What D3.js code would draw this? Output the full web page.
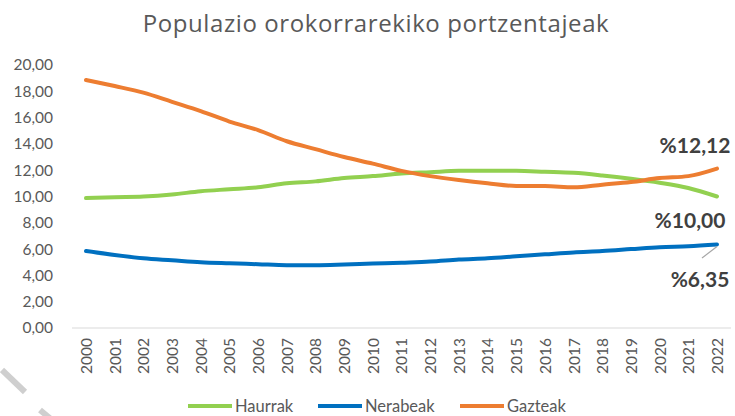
<!DOCTYPE html>
<html>
<head>
<meta charset="utf-8">
<script src="https://cdn.jsdelivr.net/npm/d3@7"></script>
<style>
  body { margin: 0; background: #fff; }
  svg { display: block; }
</style>
</head>
<body>
<svg id="chart" width="735" height="416"></svg>
<script>
// data
const years = ["2000","2001","2002","2003","2004","2005","2006","2007","2008","2009","2010","2011",
  "2012","2013","2014","2015","2016","2017","2018","2019","2020","2021","2022"]
const haurrak  = [9.88,9.95,10.0,10.15,10.4,10.55,10.7,11.0,11.15,11.4,11.55,11.75,11.85,11.95,11.95,11.95,11.88,11.8,11.6,11.35,11.05,10.65,10.00]
const nerabeak = [5.85,5.55,5.3,5.15,5.0,4.92,4.85,4.78,4.78,4.83,4.9,4.97,5.05,5.2,5.3,5.45,5.6,5.75,5.85,6.0,6.15,6.22,6.35]
const gazteak  = [18.86,18.4,17.9,17.2,16.5,15.7,15.05,14.2,13.6,13.0,12.5,11.95,11.55,11.25,11.0,10.8,10.8,10.7,10.9,11.1,11.4,11.55,12.12]
const yTicks = [0,2,4,6,8,10,12,14,16,18,20]

const series = [
  { name: "Haurrak", values: haurrak, color: "#92D050" },
  { name: "Nerabeak", values: nerabeak, color: "#0070C0" },
  { name: "Gazteak", values: gazteak, color: "#ED7D31" }
]

const svg = d3.select("#chart")
const fmt = v => d3.format(".2f")(v).replace(".", ",")

// scales
const x = d3.scalePoint().domain(years).range([86, 717])
const y = d3.scaleLinear().domain([0, 20]).range([328, 65])

// title
svg.append("text")
  .attr("x", 376).attr("y", 32)
  .attr("text-anchor", "middle")
  .style("font-family", "'Open Sans', sans-serif")
  .style("font-size", "24px")
  .style("letter-spacing", "0.6px")
  .style("fill", "#595959")
  .text("Populazio orokorrarekiko portzentajeak")

// y axis (labels only)
const yAxis = svg.append("g")
  .attr("transform", "translate(57,0)")
  .call(d3.axisLeft(y).tickValues(yTicks).tickFormat(fmt).tickSize(0).tickPadding(4))
yAxis.select(".domain").remove()
yAxis.selectAll("text")
  .style("font-family", "Lato, sans-serif")
  .style("font-size", "15.5px")
  .style("fill", "#595959")

// baseline
svg.append("line")
  .attr("x1", 72).attr("x2", 731)
  .attr("y1", y(0)).attr("y2", y(0))
  .attr("stroke", "#d9d9d9").attr("stroke-width", 1)

// x axis
const xAxis = svg.append("g")
  .attr("transform", `translate(0,${y(0)})`)
  .call(d3.axisBottom(x).tickSize(0).tickPadding(0))
xAxis.select(".domain").remove()
xAxis.selectAll("text")
  .attr("transform", "rotate(-90)")
  .attr("x", -10).attr("y", 0).attr("dy", "0.35em")
  .attr("text-anchor", "end")
  .style("font-family", "Lato, sans-serif")
  .style("font-size", "15.5px")
  .style("fill", "#595959")

// lines
const line = d3.line()
  .x((d, i) => x(years[i]))
  .y(d => y(d))
  .curve(d3.curveMonotoneX)

svg.selectAll(".series")
  .data(series)
  .enter()
  .append("path")
  .attr("class", "series")
  .attr("d", d => line(d.values))
  .attr("fill", "none")
  .attr("stroke", d => d.color)
  .attr("stroke-width", 4)
  .attr("stroke-linecap", "round")
  .attr("stroke-linejoin", "round")

// end labels
const last = years.length - 1
const labelStyle = sel => sel
  .style("font-family", "Lato, sans-serif")
  .style("font-size", "21px")
  .style("font-weight", "bold")
  .style("fill", "#404040")
  .attr("text-anchor", "middle")

svg.append("text").call(labelStyle)
  .attr("x", 695).attr("y", y(gazteak[last]) - 16)
  .text("%" + fmt(gazteak[last]))
svg.append("text").call(labelStyle)
  .attr("x", 690).attr("y", y(haurrak[last]) + 31)
  .text("%" + fmt(haurrak[last]))

// leader for Nerabeak
svg.append("line")
  .attr("x1", x(years[last])).attr("y1", y(nerabeak[last]) + 2)
  .attr("x2", 702).attr("y2", 258)
  .attr("stroke", "#a6a6a6").attr("stroke-width", 1.2)
svg.append("text").call(labelStyle)
  .attr("x", 700).attr("y", 287)
  .text("%" + fmt(nerabeak[last]))

// legend
const legendX = [188, 318, 460]
const legend = svg.selectAll(".legend")
  .data(series)
  .enter()
  .append("g")
  .attr("transform", (d, i) => `translate(${legendX[i]},406)`)
legend.append("line")
  .attr("x1", 0).attr("x2", 44)
  .attr("stroke", d => d.color).attr("stroke-width", 4)
legend.append("text")
  .attr("x", 47).attr("dy", "0.35em")
  .style("font-family", "Lato, sans-serif")
  .style("font-size", "16.5px")
  .style("fill", "#595959")
  .text(d => d.name)

// stray marks in the corner of the original image
const marks = [[[2, 370], [25, 392]], [[40, 410], [52, 420]]]
svg.selectAll(".mark")
  .data(marks)
  .enter()
  .append("line")
  .attr("x1", d => d[0][0]).attr("y1", d => d[0][1])
  .attr("x2", d => d[1][0]).attr("y2", d => d[1][1])
  .attr("stroke", "#cfcfcf").attr("stroke-width", 6)
</script>
</body>
</html>
